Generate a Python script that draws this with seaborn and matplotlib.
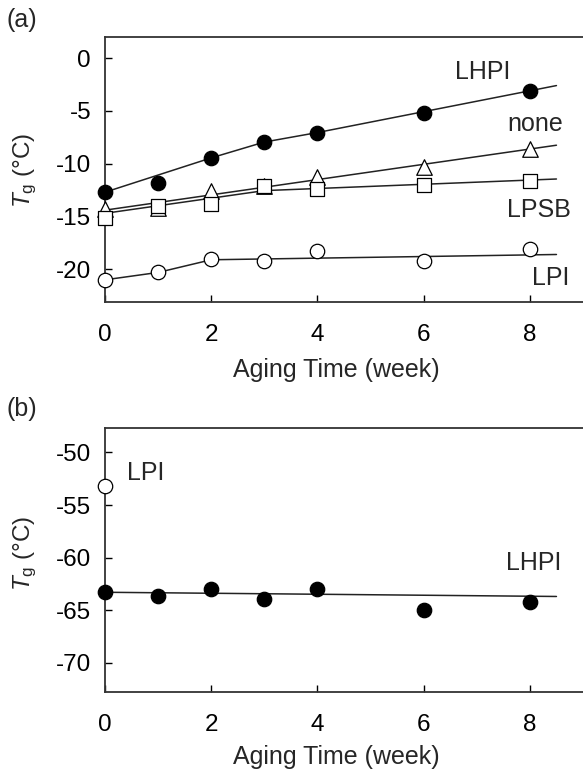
import matplotlib
matplotlib.use("Agg")
import matplotlib.pyplot as plt
import seaborn as sns
import pandas as pd

# ---- data ----
weeks = [0, 1, 2, 3, 4, 6, 8]
a_lhpi = [-12.7, -11.8, -9.5, -7.9, -7.1, -5.2, -3.1]
a_none = [-14.3, -14.2, -12.6, -12.1, -11.3, -10.3, -8.6]
a_lpsb = [-15.1, -14.0, -13.8, -12.1, -12.4, -12.0, -11.6]
a_lpi = [-21.0, -20.3, -19.0, -19.2, -18.3, -19.2, -18.1]

# fitted trend lines (knots)
fit_lhpi_x = [0, 2, 3, 4, 8.5]
fit_lhpi_y = [-12.7, -9.45, -7.95, -7.05, -2.6]
fit_none_x = [0, 8.5]
fit_none_y = [-14.4, -8.25]
fit_lpsb_x = [0, 3, 8.5]
fit_lpsb_y = [-14.7, -12.55, -11.45]
fit_lpi_x = [0, 1, 2, 8.5]
fit_lpi_y = [-21.0, -20.3, -19.1, -18.6]

b_lhpi = [-63.3, -63.7, -63.0, -63.9, -63.0, -65.0, -64.2]
b_lpi_x = [0]
b_lpi = [-53.2]
fit_b_x = [0, 8.5]
fit_b_y = [-63.3, -63.7]

xticks = [0, 2, 4, 6, 8]
yticks_a = [0, -5, -10, -15, -20]
yticks_b = [-50, -55, -60, -65, -70]

sns.set_style("ticks")
plt.rcParams["font.family"] = ["Liberation Sans", "DejaVu Sans"]
plt.rcParams["mathtext.fontset"] = "custom"
plt.rcParams["mathtext.rm"] = "Liberation Sans"
plt.rcParams["mathtext.it"] = "Liberation Sans:italic"
plt.rcParams["axes.unicode_minus"] = False

W, H = 583, 769
fig = plt.figure(figsize=(W / 100, H / 100), dpi=100)

def px_axes(left, top, right, bottom):
    return fig.add_axes([left / W, 1 - bottom / H, (right - left) / W, (bottom - top) / H])

ax_a = px_axes(105, 37, 583, 302)
ax_b = px_axes(105, 428.3, 583, 691.7)

LC = "#222222"
for fx, fy in [(fit_lhpi_x, fit_lhpi_y), (fit_none_x, fit_none_y),
               (fit_lpsb_x, fit_lpsb_y), (fit_lpi_x, fit_lpi_y)]:
    sns.lineplot(x=fx, y=fy, ax=ax_a, color=LC, lw=1.1, zorder=2)

series_a = [(a_lhpi, "o", "black", 108), (a_none, "^", "white", 125),
            (a_lpsb, "s", "white", 95), (a_lpi, "o", "white", 108)]
for vals, m, fc, s in series_a:
    sns.scatterplot(x=weeks, y=vals, ax=ax_a, marker=m, s=s, color=fc,
                    edgecolor="black", linewidth=0.9, zorder=3)

sns.lineplot(x=fit_b_x, y=fit_b_y, ax=ax_b, color=LC, lw=1.1, zorder=2)
sns.scatterplot(x=weeks, y=b_lhpi, ax=ax_b, marker="o", s=108, color="black",
                edgecolor="black", linewidth=0.9, zorder=3)
sns.scatterplot(x=b_lpi_x, y=b_lpi, ax=ax_b, marker="o", s=108, color="white",
                edgecolor="black", linewidth=0.9, zorder=3)

xmax = 9.0
ax_a.set_xlim(0, xmax)
ax_a.set_ylim(-23.1, 2.0)
ax_b.set_xlim(0, xmax)
ax_b.set_ylim(-72.76, -47.7)
ax_a.set_yticks(yticks_a)
ax_b.set_yticks(yticks_b)

FS = 17.5
for ax in (ax_a, ax_b):
    ax.set_xticks(xticks)
    ax.tick_params(direction="in", length=5, width=1, labelsize=FS,
                   colors="black")
    ax.tick_params(axis="x", pad=16)
    ax.tick_params(axis="y", pad=10)
    for sp in ("left", "bottom", "top"):
        ax.spines[sp].set_visible(True)
        ax.spines[sp].set_linewidth(1.3)
        ax.spines[sp].set_color("#333333")
    ax.spines["right"].set_visible(False)
    for c in ax.collections:
        c.set_clip_on(False)
    ax.set_xlabel("Aging Time (week)", fontsize=FS + 0.5)
    ax.set_ylabel("$\\mathit{T}_{\\rm g}$ (\u00b0C)", fontsize=FS)
    ax.xaxis.label.set_va("center")
    ax.yaxis.label.set_va("center")

ax_a.xaxis.set_label_coords(0.483, -0.257)
ax_b.xaxis.set_label_coords(0.483, -0.248)
ax_a.yaxis.set_label_coords(-0.167, 0.498)
ax_b.yaxis.set_label_coords(-0.167, 0.527)

tk = dict(fontsize=18, ha="center", va="center")
ax_a.text(7.12, -1.27, "LHPI", **tk)
ax_a.text(8.1, -6.23, "none", **tk)
ax_a.text(8.17, -14.38, "LPSB", **tk)
ax_a.text(8.39, -20.8, "LPI", **tk)
ax_b.text(0.77, -52.0, "LPI", **tk)
ax_b.text(8.08, -60.5, "LHPI", **tk)

fig.text(22 / W, 1 - 20 / H, "(a)", fontsize=18, ha="center", va="center")
fig.text(22 / W, 1 - 409 / H, "(b)", fontsize=18, ha="center", va="center")

fig.savefig("out.png", dpi=100)
